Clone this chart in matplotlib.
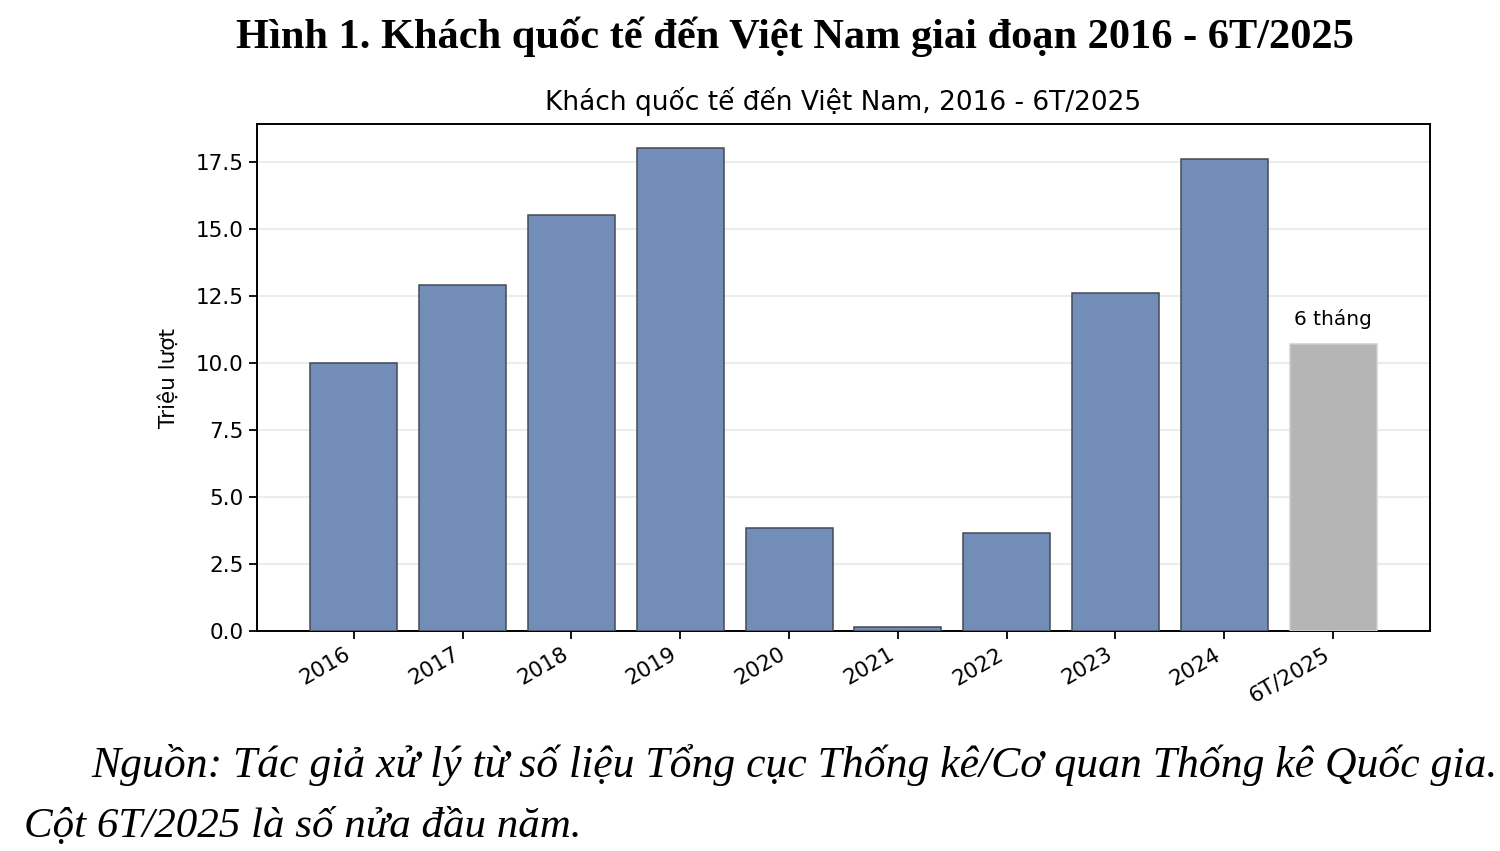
import matplotlib
matplotlib.use("Agg")
import matplotlib.pyplot as plt

categories = ["2016", "2017", "2018", "2019", "2020", "2021", "2022", "2023", "2024", "6T/2025"]
visitors = [10.0, 12.9, 15.5, 18.0, 3.84, 0.157, 3.67, 12.6, 17.6, 10.7]
partial_label = "6 tháng"

fig = plt.figure(figsize=(15, 8.51), dpi=100)
ax = fig.add_axes([0.1713, 0.2585, 0.782, 0.5958])

x = list(range(len(categories)))
colors = ["#728db8"] * (len(categories) - 1) + ["#b5b5b5"]
bars = ax.bar(x, visitors, width=0.8, color=colors,
              edgecolor="#444a55", linewidth=1.1, zorder=3)
bars[-1].set_edgecolor("#cfcfcf")

ax.set_xticks(x)
ax.set_xticklabels(categories, rotation=30, ha="right")
ax.tick_params(axis="both", labelsize=15.5, length=6, width=1.3)
ax.set_ylabel("Triệu lượt", fontsize=15.5, labelpad=12)
ax.set_title("Khách quốc tế đến Việt Nam, 2016 - 6T/2025", fontsize=19, pad=10)
ax.yaxis.grid(True, color="#ececec", linewidth=1.5, zorder=0)
ax.set_axisbelow(True)
for s in ax.spines.values():
    s.set_linewidth(1.4)

ax.text(x[-1], visitors[-1] + 0.55, partial_label, ha="center", va="bottom", fontsize=14.5)

fig.text(0.5297, 0.957, "Hình 1. Khách quốc tế đến Việt Nam giai đoạn 2016 - 6T/2025",
         ha="center", va="center", fontsize=30.5, fontweight="bold", family="Liberation Serif")
fig.text(0.061, 0.087, "Nguồn: Tác giả xử lý từ số liệu Tổng cục Thống kê/Cơ quan Thống kê Quốc gia.",
         ha="left", va="baseline", fontsize=31.4, style="italic", family="Liberation Serif")
fig.text(0.016, 0.0165, "Cột 6T/2025 là số nửa đầu năm.",
         ha="left", va="baseline", fontsize=31, style="italic", family="Liberation Serif")

fig.savefig("out.png", dpi=100)
